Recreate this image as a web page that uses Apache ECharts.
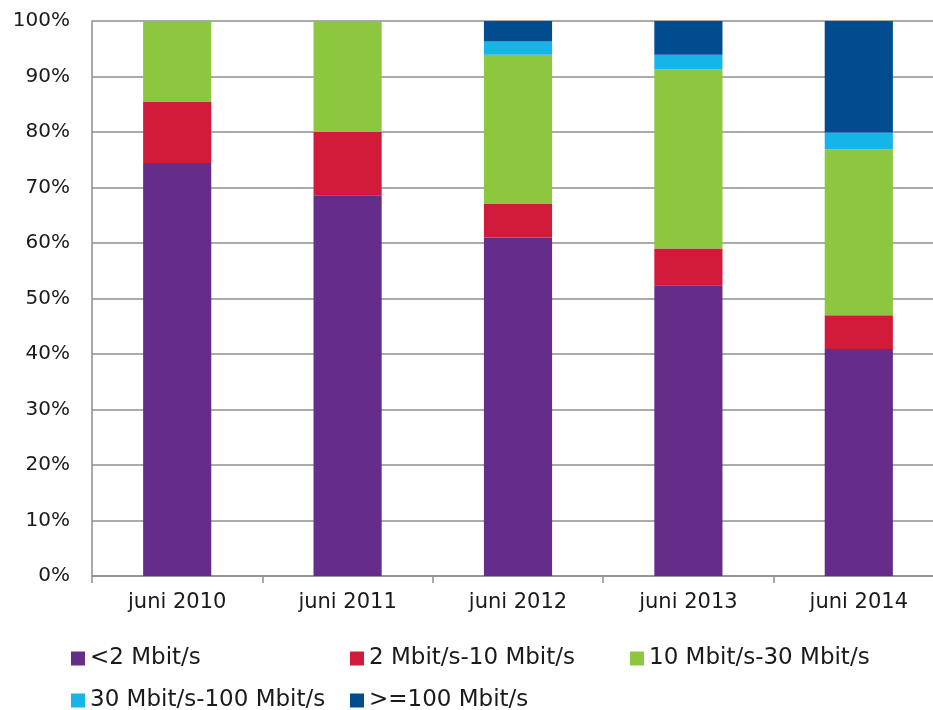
<!DOCTYPE html>
<html>
<head>
<meta charset="utf-8">
<script src="https://cdn.jsdelivr.net/npm/echarts@6/dist/echarts.min.js"></script>
<style>
  html, body { margin: 0; padding: 0; background: #fff; }
  #chart { width: 933px; height: 710px; }
</style>
</head>
<body>
<div id="chart"></div>
<script>
// categories and stacked shares (%)
const categories = ['juni 2010', 'juni 2011', 'juni 2012', 'juni 2013', 'juni 2014'];
const below2 = [74.4, 68.6, 61.0, 52.4, 40.9];
const from2to10 = [11.1, 11.4, 6.1, 6.6, 6.1];
const from10to30 = [14.5, 20.0, 26.8, 32.3, 29.9];
const from30to100 = [0, 0, 2.4, 2.6, 3.0];
const above100 = [0, 0, 3.7, 6.1, 20.1];

const names = ['<2 Mbit/s', '2 Mbit/s-10 Mbit/s', '10 Mbit/s-30 Mbit/s', '30 Mbit/s-100 Mbit/s', '>=100 Mbit/s'];
const colors = ['#652d89', '#d21b3a', '#8dc63f', '#15b5e8', '#004c8f'];
const values = [below2, from2to10, from10to30, from30to100, above100];

const font = "'DejaVu Sans', sans-serif";

// legend is laid out in fixed columns, one legend per item
const legendPos = [[66, 642], [345, 642], [625, 642], [66, 684], [345, 684]];

const chart = echarts.init(document.getElementById('chart'));
chart.setOption({
  animation: false,
  color: colors,
  // the original plot runs past the right edge of the picture
  grid: { left: 92, right: -11, top: 21, bottom: 134, outerBoundsMode: 'none', containLabel: false },
  legend: names.map((n, i) => ({
    data: [n],
    left: legendPos[i][0],
    top: legendPos[i][1],
    icon: 'rect',
    itemWidth: 14,
    itemHeight: 14,
    itemGap: 0,
    selectedMode: false,
    textStyle: { fontFamily: font, fontSize: 23, color: '#1a1a1a' }
  })),
  xAxis: {
    type: 'category',
    data: categories,
    axisLine: { lineStyle: { color: '#8f8f8f', width: 1.5 } },
    axisTick: { show: true, length: 7, lineStyle: { color: '#8f8f8f', width: 1.5 } },
    axisLabel: { margin: 16, fontFamily: font, fontSize: 21, color: '#1a1a1a' }
  },
  yAxis: {
    type: 'value',
    min: 0,
    max: 100,
    interval: 10,
    axisLine: { show: true, lineStyle: { color: '#8f8f8f', width: 1.5 } },
    axisTick: { show: false },
    splitLine: { lineStyle: { color: '#8f8f8f', width: 1.5 } },
    axisLabel: { margin: 22, fontFamily: font, fontSize: 20, color: '#1a1a1a', formatter: '{value}%' }
  },
  series: names.map((n, i) => ({
    name: n,
    type: 'bar',
    stack: 'total',
    barWidth: '40%',
    data: values[i],
    itemStyle: { color: colors[i] }
  }))
});
</script>
</body>
</html>
